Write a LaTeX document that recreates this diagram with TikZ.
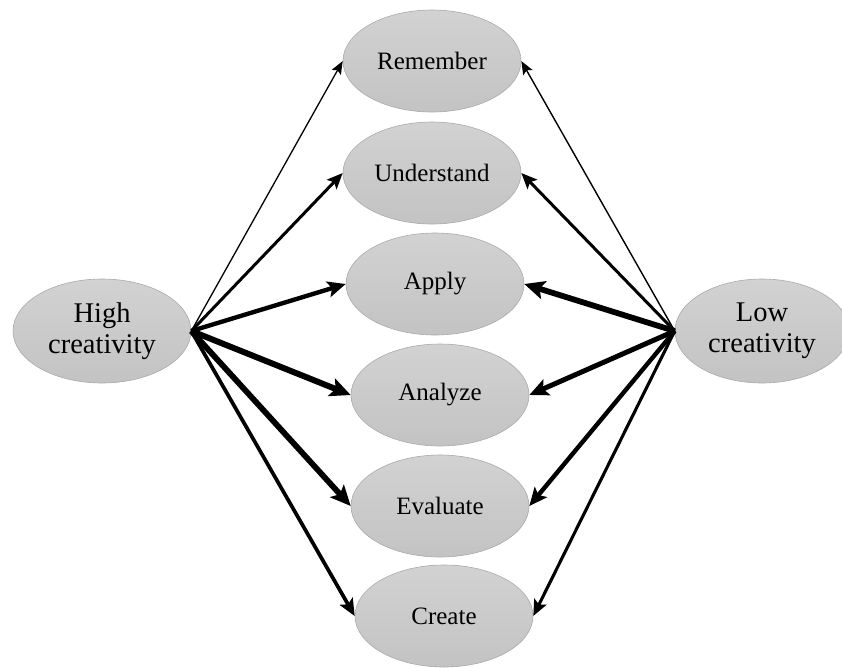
\documentclass[tikz,border=0pt]{standalone}
\usepackage{fontspec}
\setmainfont{Liberation Serif}
\usetikzlibrary{shapes.geometric,arrows.meta}

\definecolor{bubbletop}{RGB}{210,210,210}
\definecolor{bubblebot}{RGB}{195,195,195}
\definecolor{bubbleedge}{RGB}{170,170,170}

\begin{document}
\begin{tikzpicture}[x=1pt,y=-1pt,
  bubble/.style={ellipse, inner sep=0pt, minimum width=178pt, minimum height=102pt,
    top color=bubbletop, bottom color=bubblebot, draw=bubbleedge, line width=0.6pt,
    font=\fontsize{25}{29}\selectfont, text=black},
  pole/.style={bubble, minimum height=104pt, align=center,
    font=\fontsize{28.5}{31}\selectfont},
  flow/.style={draw=black, line width=#1pt,
    -{Stealth[length=11pt 1.6, width=8pt 1.8, inset=2pt 0.4]}}
]
\useasboundingbox (0,0) rectangle (842,667);

% taxonomy levels
\node[bubble] (rem) at (432,61)  {Remember};
\node[bubble] (und) at (432,173) {Understand};
\node[bubble] (app) at (435,284) {Apply};
\node[bubble] (ana) at (440,395) {Analyze};
\node[bubble] (eva) at (440,506) {Evaluate};
\node[bubble] (cre) at (444,616) {Create};

% the two groups
\node[pole, minimum width=178pt] (high) at (102,331) {High\\creativity};
\node[pole, minimum width=174pt] (low)  at (762,331) {Low\\creativity};

% links from the high-creativity group
\draw[flow=1.3] (high.east) -- (rem.west);
\draw[flow=3]   (high.east) -- (und.west);
\draw[flow=4.4] (high.east) -- (app.west);
\draw[flow=6]   (high.east) -- (ana.west);
\draw[flow=5.8] (high.east) -- (eva.west);
\draw[flow=3.7] (high.east) -- (cre.west);

% links from the low-creativity group
\draw[flow=1.4] (low.west) -- (rem.east);
\draw[flow=3]   (low.west) -- (und.east);
\draw[flow=5.8] (low.west) -- (app.east);
\draw[flow=5]   (low.west) -- (ana.east);
\draw[flow=4.4] (low.west) -- (eva.east);
\draw[flow=3.1] (low.west) -- (cre.east);
\end{tikzpicture}
\end{document}
